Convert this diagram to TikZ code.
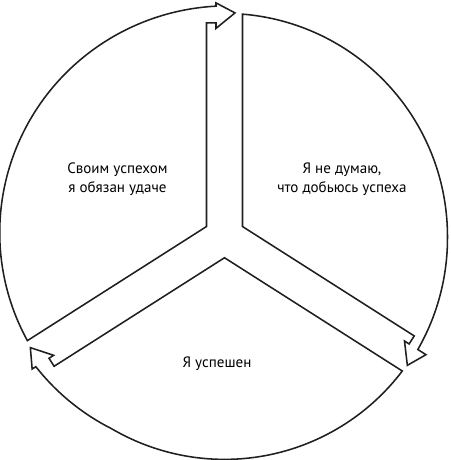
\documentclass[tikz,border=0pt]{standalone}
\usepackage{fontspec}
\setmainfont{PT Sans}
\def\rad{223}
\def\halfgap{18}
\tikzstyle{sector}=[draw=black!88, line width=1.1pt, line join=miter]
\tikzstyle{caption}=[align=center, inner sep=0pt, font=\fontsize{10.7}{13.9}\selectfont]

\begin{document}
\begin{tikzpicture}[x=0.025cm, y=0.025cm]
  \useasboundingbox (-224.5,-223.6) rectangle (225.5,236.4);

  % three sectors, each one ends in an arrow across the next gap
  \foreach \aA/\arcw/\flare/\flw in {90/122.5/7.4/115, 327.5/122.5/1/30, 212.5/115/6.3/25}{
    \begin{scope}[rotate=\aA-90]
      \pgfmathsetmacro\ts{90+atan(8.5/(\rad+\flare))}
      \pgfmathsetmacro\te{90+\arcw-asin(\halfgap/\rad)}
      \coordinate (in) at ({90+\arcw/2}:{\halfgap/sin(\arcw/2)});
      \draw[sector] (in) -- (-\halfgap,213.5) -- (-8.5,213.5) -- (-8.5,208)
        -- (10.5,223.5) -- (-8.5,233.5)
        -- plot[domain=\ts:\te, samples=80, smooth, variable=\t]
             (\t:{\rad+\flare*max(0,1-(\t-\ts)/\flw)})
        -- cycle;
    \end{scope}
  }

  \node[caption] (luck) at (-107,57) {Своим успехом\\я обязан удаче};
  \node[caption] (doubt) at (117.5,57) {Я не думаю,\\что добьюсь успеха};
  \node[caption] (success) at (-7.5,-127.6) {Я успешен};
\end{tikzpicture}
\end{document}
